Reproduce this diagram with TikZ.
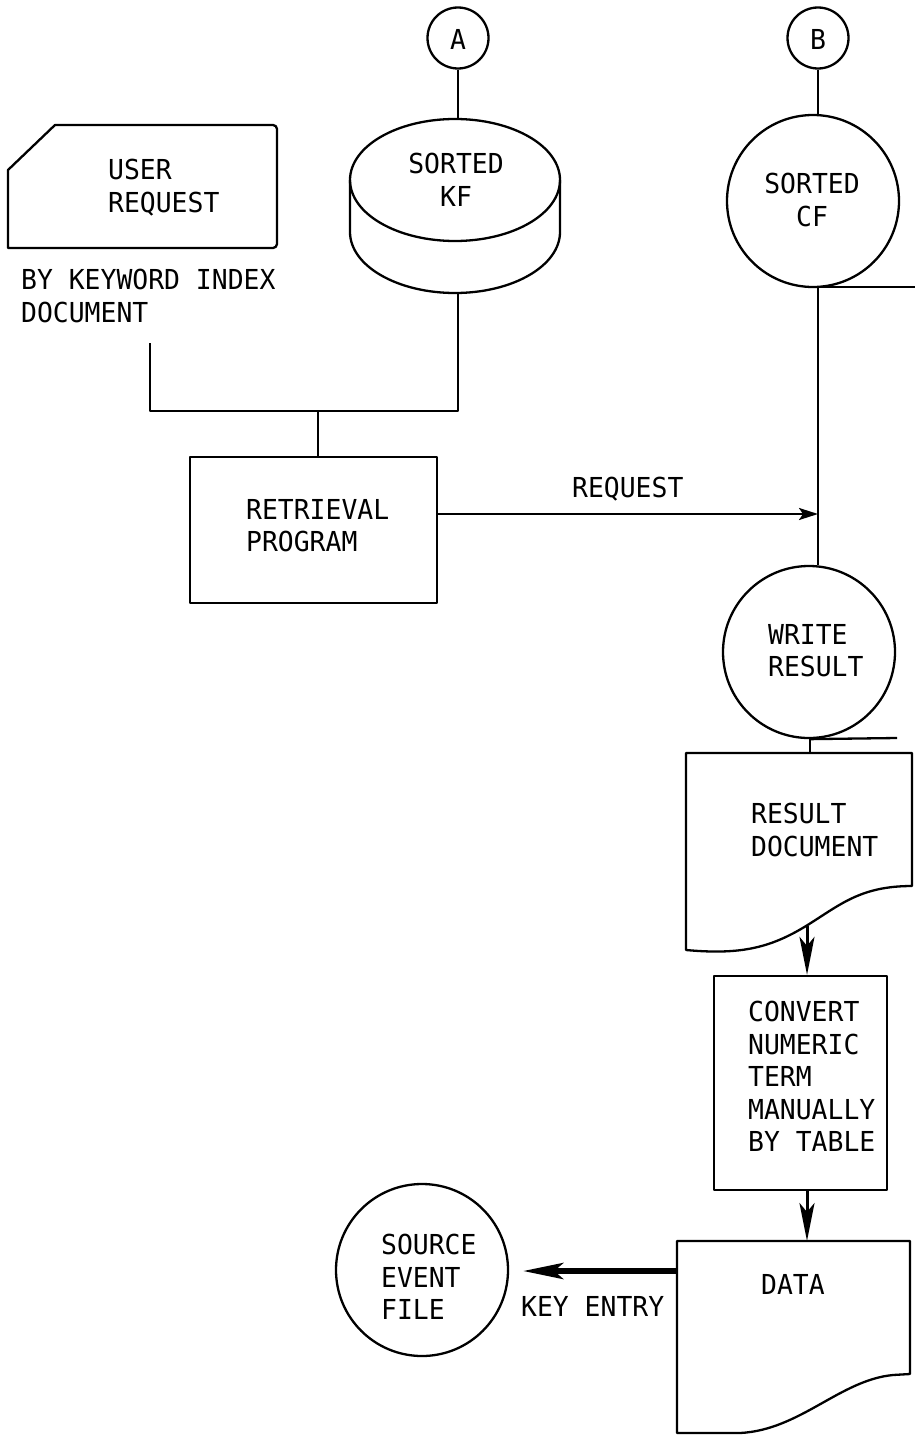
\documentclass[tikz,border=0pt]{standalone}
\usepackage{fontspec}
\usetikzlibrary{arrows.meta}
\newfontfamily\flowfont{DejaVu Sans Mono}[FakeStretch=0.96]
\begin{document}
\begin{tikzpicture}[x=1pt,y=-1pt, line width=2.3pt, line join=round,
  lbl/.style={inner sep=0pt, font=\flowfont\fontsize{27.5}{32.5}\selectfont, align=left, anchor=north west},
  clbl/.style={lbl, align=center, anchor=north},
  ring/.style={draw, circle, inner sep=0pt},
  box/.style={draw, rectangle, inner sep=0pt},
  flow/.style={-{Stealth[length=19pt,width=12pt,inset=4pt]}},
  heavy/.style={line width=3pt, -{Stealth[length=38pt,width=15pt,inset=9pt]}},
]
\useasboundingbox (0,0) rectangle (915,1437);
\clip (0,0) rectangle (915,1437);

% ---- connector A and sorted keyword file (disk) ----
\node[ring, minimum size=61pt] (A) at (458,38) {};
\node[clbl] (Atxt) at (458,28) {A};
\draw (455,180) ellipse [x radius=105, y radius=61];
\draw (350,180) -- (350,232) arc[start angle=180, end angle=0, x radius=105, y radius=61] -- (560,180);
\node[clbl] (kftxt) at (456,152) {SORTED\\KF};
\coordinate (kftop) at (458,119);
\coordinate (kfbot) at (458,293);
\draw (A) -- (kftop);

% ---- user request card ----
\draw (8,248) -- (8,170) -- (55,125) [rounded corners=4pt] -- (277,125) -- (277,248) [sharp corners] -- cycle;
\node[lbl] (urtxt) at (107,158) {USER\\REQUEST};
\node[lbl] (urnote) at (20,268) {BY KEYWORD INDEX\\DOCUMENT};
\coordinate (urend) at (150,343);

% ---- retrieval program ----
\node[box, minimum width=247pt, minimum height=146pt] (ret) at (313.5,530) {};
\node[lbl] (rettxt) at (245,498) {RETRIEVAL\\PROGRAM};
\coordinate (jk) at (458,411);
\coordinate (jr) at (318,411);
\draw (kfbot) -- (jk) -- (jk -| urend) -- (urend);
\draw (jr) -- (jr |- ret.north);

% ---- connector B and sorted CF ----
\node[ring, minimum size=61pt] (B) at (818,38) {};
\node[clbl] (Btxt) at (818,28) {B};
\node[ring, minimum size=172pt] (cf) at (813,201) {};
\node[clbl] (cftxt) at (812,172) {SORTED\\CF};
\draw (B.south) -- (B.south |- cf.north);
\coordinate (cfb) at (818,287);
\coordinate (cfout) at (915,287);
\draw (cfb) -- (cfout);

% ---- write result ----
\node[ring, minimum size=172pt] (wr) at (809,652) {};
\node[lbl] (wrtxt) at (767,623) {WRITE\\RESULT};
\draw (cfb) -- (cfb |- wr.north);
\coordinate (reqtip) at (818,514);
\draw[flow] ([yshift=16pt]ret.east) -- (reqtip);
\node[lbl] (reqlbl) at (571,476) {REQUEST};
\coordinate (wrout) at (897,738);
\draw (wr.south) -- (wrout);

% ---- result document ----
\coordinate (rdtop) at (810,753);
\draw (686,753) -- (912,753) -- (912,886)
  .. controls (860,886) and (840,905) .. (806,926)
  .. controls (770,948) and (740,955) .. (686,950) -- cycle;
\draw (wr.south -| rdtop) -- (rdtop);
\node[lbl] (rdtxt) at (750,802) {RESULT\\DOCUMENT};
\coordinate (rdwave) at (807,926);

% ---- manual conversion ----
\node[box, minimum width=173pt, minimum height=214pt] (conv) at (800.5,1083) {};
\node[lbl] (convtxt) at (747,1000) {CONVERT\\NUMERIC\\TERM\\MANUALLY\\BY TABLE};
\draw[heavy] (rdwave) -- (rdwave |- conv.north);

% ---- data document ----
\coordinate (dtop) at (807,1241);
\draw (677,1241) -- (910,1241) -- (910,1374) -- (893,1375)
  .. controls (840,1380) and (800,1430) .. (740,1433) -- (677,1433) -- cycle;
\node[lbl] (datatxt) at (760,1273) {DATA};
\draw[heavy] (dtop |- conv.south) -- (dtop);

% ---- key entry to source event file ----
\node[ring, minimum size=172pt] (sef) at (422,1270) {};
\node[lbl] (seftxt) at (380,1233) {SOURCE\\EVENT\\FILE};
\coordinate (dleft) at (677,1271);
\coordinate (ketip) at (523,1271);
\draw[line width=6pt, -{Stealth[length=40pt,width=16pt,inset=9pt]}] (dleft) -- (ketip);
\node[lbl] (kelbl) at (520,1295) {KEY ENTRY};
\end{tikzpicture}
\end{document}
